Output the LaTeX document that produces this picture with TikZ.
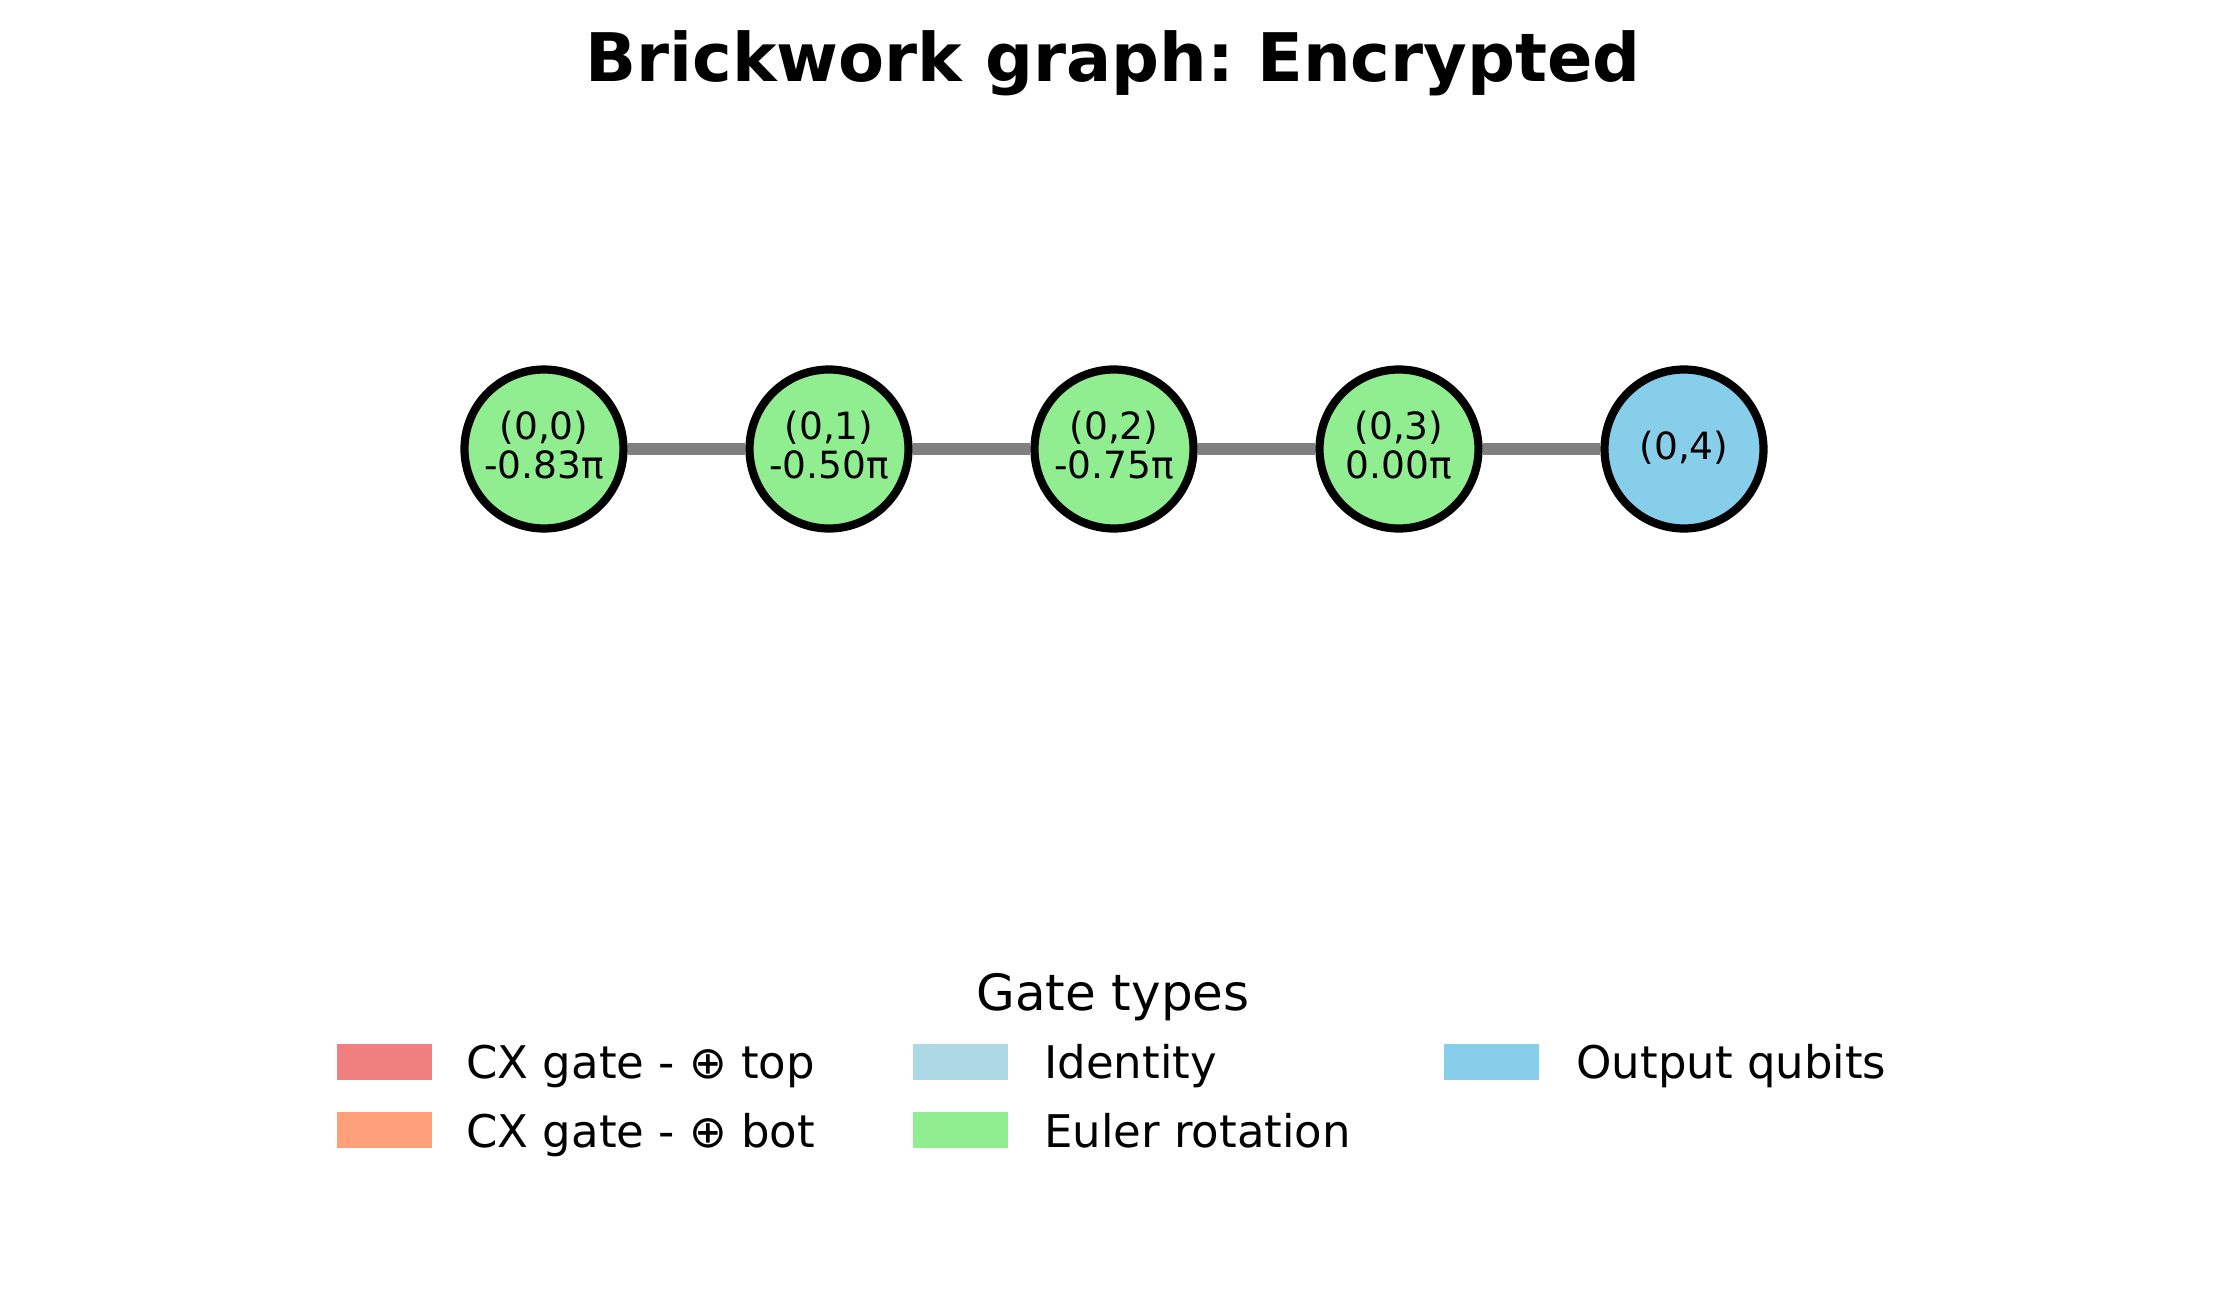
\documentclass[tikz,border=0pt]{standalone}
\usepackage{fontspec}
\setmainfont{DejaVu Sans}
\frenchspacing
\usetikzlibrary{backgrounds}
\definecolor{eulergreen}{HTML}{90EE90}
\definecolor{outblue}{HTML}{87CEEB}
\definecolor{cxtop}{HTML}{F08080}
\definecolor{cxbot}{HTML}{FFA07A}
\definecolor{idblue}{HTML}{ADD8E6}
\definecolor{edgegray}{HTML}{808080}
\tikzset{
  qubit/.style={circle, draw=black, line width=4.1pt, minimum size=79.5pt, inner sep=0pt},
  euler/.style={qubit, fill=eulergreen},
  outq/.style={qubit, fill=outblue},
  qlbl/.style={font=\fontsize{18.75pt}{19.5pt}\selectfont, align=center, inner sep=0pt},
  edge/.style={draw=edgegray, line width=5.6pt},
  patch/.style={rectangle, minimum width=47.5pt, minimum height=18pt, inner sep=0pt, draw=none},
  legtxt/.style={anchor=base west, inner sep=0pt, font=\fontsize{22.5pt}{27pt}\selectfont},
}
\begin{document}
\begin{tikzpicture}[x=0.5pt, y=-0.5pt]
\useasboundingbox (0,0) rectangle (2227,1311);
\node[anchor=base, inner sep=0pt, font=\fontsize{33.5pt}{40pt}\selectfont\bfseries] (title) at (1113,82) {Brickwork graph: Encrypted};
% qubits
\node[euler] (n0) at (544,449) {};
\node[euler] (n1) at (829,449) {};
\node[euler] (n2) at (1114,449) {};
\node[euler] (n3) at (1399,449) {};
\node[outq] (n4) at (1684,449) {};
\node[qlbl, anchor=base] (l0) at (544,478) {(0,0)\\-0.83π};
\node[qlbl, anchor=base] (l1) at (829,478) {(0,1)\\-0.50π};
\node[qlbl, anchor=base] (l2) at (1114,478) {(0,2)\\-0.75π};
\node[qlbl, anchor=base] (l3) at (1399,478) {(0,3)\\0.00π};
\node[qlbl, anchor=base] (l4) at (1684,459) {(0,4)};
\begin{pgfonlayer}{background}
\draw[edge] (n0) -- (n1);
\draw[edge] (n1) -- (n2);
\draw[edge] (n2) -- (n3);
\draw[edge] (n3) -- (n4);
\end{pgfonlayer}
% legend
\node[anchor=base, inner sep=0pt, font=\fontsize{25pt}{30pt}\selectfont] (legtitle) at (1113,1010) {Gate types};
\node[patch, fill=cxtop] (p1) at (384.5,1062) {};
\node[patch, fill=cxbot] (p2) at (384.5,1130) {};
\node[patch, fill=idblue] (p3) at (960,1062) {};
\node[patch, fill=eulergreen] (p4) at (960,1130) {};
\node[patch, fill=outblue] (p5) at (1491.5,1062) {};
\node[legtxt] (t1) at (466,1078) {CX gate - ⊕ top};
\node[legtxt] (t2) at (466,1147) {CX gate - ⊕ bot};
\node[legtxt] (t3) at (1044,1078) {Identity};
\node[legtxt] (t4) at (1044,1147) {Euler rotation};
\node[legtxt] (t5) at (1576,1078) {Output qubits};
\end{tikzpicture}
\end{document}
